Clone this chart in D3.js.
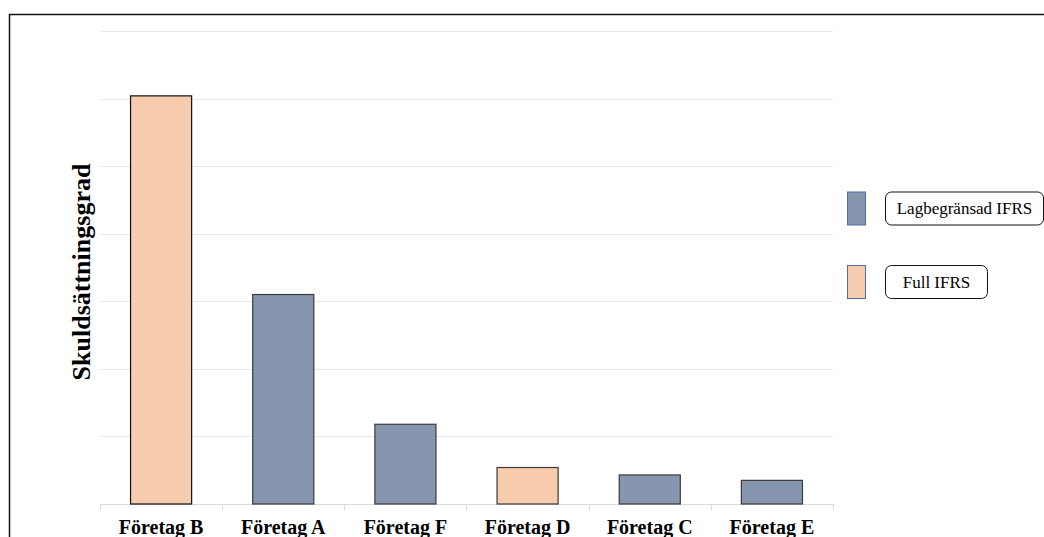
<!DOCTYPE html>
<html>
<head>
<meta charset="utf-8">
<script src="https://cdn.jsdelivr.net/npm/d3@7"></script>
<style>
  html, body { margin: 0; padding: 0; background: #fff; }
  svg { display: block; }
</style>
</head>
<body>
<svg id="chart" width="1044" height="537"></svg>
<script>
const categories = ["Företag B", "Företag A", "Företag F", "Företag D", "Företag C", "Företag E"];
const values = [6.04, 3.1, 1.18, 0.54, 0.43, 0.35];
const groups = ["Full IFRS", "Lagbegränsad IFRS", "Lagbegränsad IFRS", "Full IFRS", "Lagbegränsad IFRS", "Lagbegränsad IFRS"];
const yTicks = [0, 1, 2, 3, 4, 5, 6, 7];
const legendLabels = ["Lagbegränsad IFRS", "Full IFRS"];
const yTitle = "Skuldsättningsgrad";

const colors = { "Lagbegränsad IFRS": "#8696ae", "Full IFRS": "#f7cbae" };

const svg = d3.select("#chart");
const serif = "Liberation Serif, Times New Roman, serif";

// frame
svg.append("path").attr("d", "M9.5,537 L9.5,14.5 L1044,14.5")
  .attr("fill", "none").attr("stroke", "#111").attr("stroke-width", 1.5);

const x = d3.scaleBand().domain(categories).range([100, 833]).paddingInner(0.5).paddingOuter(0.25);
const y = d3.scaleLinear().domain([0, 7]).range([504, 31]);

// gridlines
svg.append("g").selectAll("line").data(yTicks).join("line")
  .attr("x1", 100).attr("x2", 833)
  .attr("y1", d => Math.round(y(d)) + 0.5).attr("y2", d => Math.round(y(d)) + 0.5)
  .attr("stroke", d => d === 0 ? "#d9d9d9" : "#e8e8e8").attr("stroke-width", 1);

// category ticks
const gap = (x.step() - x.bandwidth()) / 2;
const tickXs = categories.map(c => x(c) - gap).concat([x(categories[categories.length - 1]) + x.bandwidth() + gap]);
svg.append("g").selectAll("line").data(tickXs).join("line")
  .attr("x1", d => Math.round(d) + 0.5).attr("x2", d => Math.round(d) + 0.5)
  .attr("y1", 504).attr("y2", 510)
  .attr("stroke", "#d9d9d9");

// bars
svg.append("g").selectAll("rect").data(categories).join("rect")
  .attr("x", c => x(c))
  .attr("y", (c, i) => y(values[i]))
  .attr("width", x.bandwidth())
  .attr("height", (c, i) => y(0) - y(values[i]))
  .attr("fill", (c, i) => colors[groups[i]])
  .attr("stroke", (c, i) => i === 0 ? "#111" : "#3a3a3a")
  .attr("stroke-width", 1.2);

// x labels
svg.append("g").selectAll("text").data(categories).join("text")
  .attr("x", c => x(c) + x.bandwidth() / 2)
  .attr("y", 534)
  .attr("text-anchor", "middle")
  .style("font-family", serif).attr("font-weight", "bold").attr("font-size", 20)
  .attr("fill", "#000")
  .text(c => c);

// y title
svg.append("text")
  .attr("transform", "translate(90,272) rotate(-90)")
  .attr("text-anchor", "middle")
  .style("font-family", serif).attr("font-weight", "bold").attr("font-size", 26)
  .attr("fill", "#000")
  .text(yTitle);

// legend
const legendY = [191.5, 265];
const boxW = [158, 102];
const lg = svg.append("g").selectAll("g").data(legendLabels).join("g");
lg.append("rect")
  .attr("x", 847.5).attr("y", (d, i) => legendY[i] + 0.5)
  .attr("width", 18).attr("height", 33)
  .attr("fill", d => colors[d]).attr("stroke", "#4f6fa3").attr("stroke-width", 1);
lg.append("rect")
  .attr("x", 885.5).attr("y", (d, i) => legendY[i] + 0.5)
  .attr("width", (d, i) => boxW[i]).attr("height", 33)
  .attr("rx", 6).attr("ry", 6)
  .attr("fill", "#fff").attr("stroke", "#111").attr("stroke-width", 1);
lg.append("text")
  .attr("x", (d, i) => 885.5 + boxW[i] / 2).attr("y", (d, i) => legendY[i] + 22.5)
  .attr("text-anchor", "middle")
  .style("font-family", serif).attr("font-size", 17).attr("fill", "#000")
  .text(d => d);
</script>
</body>
</html>
